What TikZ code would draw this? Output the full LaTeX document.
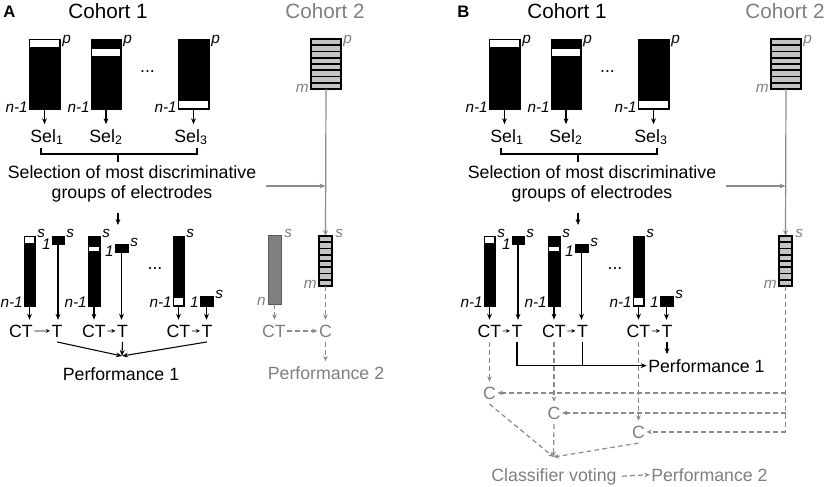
\documentclass[tikz,border=0pt]{standalone}
\usepackage{fontspec}
\setmainfont{Liberation Sans}
\usetikzlibrary{arrows.meta,calc}
\definecolor{gtxt}{HTML}{7F7F7F}
\definecolor{gline}{HTML}{8A8A8A}
\definecolor{gfill}{HTML}{C4C4C4}
\definecolor{nfill}{HTML}{808080}
\tikzset{
  txt/.style={inner xsep=1pt, inner ysep=3.5pt, font=\fontsize{13.3}{14.5}\selectfont},
  gtx/.style={txt, text=gtxt},
  lab/.style={inner sep=0pt, font=\fontsize{11.5}{13}\selectfont\itshape},
  glab/.style={lab, text=gtxt},
  head/.style={inner sep=0pt, font=\fontsize{15.5}{18}\selectfont},
  arr/.style={line width=0.8pt, -{Stealth[length=4.5pt,width=3.6pt]}},
  sarr/.style={line width=0.6pt, -{Stealth[length=3pt,width=2.8pt]}},
  garr/.style={draw=gline, line width=0.9pt, -{Stealth[length=4.5pt,width=3.6pt]}},
  dsh/.style={draw=gline, line width=0.9pt, dash pattern=on 3.5pt off 2.5pt},
  darr/.style={dsh, -{Stealth[length=4pt,width=3.4pt]}},
  blk/.style={fill=black, draw=black, line width=0.4pt},
}
\newcommand\bbar[4]{\path[blk] (#1,#2) rectangle (#3,#4);}
\newcommand\wband[4]{\path[fill=white] ({#1+1.2},{#2+1.2}) rectangle ({#3-1.2},{#4-1.2});}
\newcommand\sbar[5]{%
  \path[fill=gfill] (#1,#2) rectangle (#3,#4);
  \foreach \k in {1,...,7}{\draw[line width=#5] (#1,{#2+(#4-#2)*\k/8}) -- (#3,{#2+(#4-#2)*\k/8});}
  \draw[line width=1.4pt] (#1,#2) rectangle (#3,#4);}
\newcommand\panel[2]{%
  % top bars of cohort 1
  \bbar{29}{39}{60}{109}\wband{29}{39}{60}{48}
  \bbar{91}{39}{121}{109}\wband{91}{48}{121}{57}
  \bbar{178}{39}{209}{109}\wband{178}{100}{209}{109}
  \coordinate (#1b1) at (44.5,109);
  \coordinate (#1b2) at (106,109);
  \coordinate (#1b3) at (193.5,109);
  \node[lab,anchor=base west] (#1p1) at (62,43) {p};
  \node[lab,anchor=base west] (#1p2) at (123,43) {p};
  \node[lab,anchor=base west] (#1p3) at (211,43) {p};
  \node[lab,anchor=base east] (#1n1) at (28,112) {n-1};
  \node[lab,anchor=base east] (#1n2) at (90,112) {n-1};
  \node[lab,anchor=base east] (#1n3) at (177,112) {n-1};
  \node[txt] (#1dt) at (147.5,72) {...};
  \node[txt,anchor=base] (#1s1) at (47,142) {Sel\textsubscript{1}};
  \node[txt,anchor=base] (#1s2) at (106,142) {Sel\textsubscript{2}};
  \node[txt,anchor=base] (#1s3) at (191,142) {Sel\textsubscript{3}};
  \draw[arr] (#1b1) -- (#1b1 |- #1s1.north);
  \draw[arr] (#1b2) -- (#1b2 |- #1s2.north);
  \draw[arr] (#1b3) -- (#1b3 |- #1s3.north);
  \coordinate (#1brL) at (41,148);
  \coordinate (#1brR) at (197,148);
  \coordinate (#1brM) at (118,154);
  \draw[line width=0.8pt] (#1brL) -- (#1brL |- #1brM) -- (#1brR |- #1brM) -- (#1brR);
  \draw[line width=0.8pt] (#1brM) -- ++(0,8);
  \node[txt,align=center] (#1sel) at (132,184) {Selection of most discriminative\\groups of electrodes};
  \coordinate (#1dtop) at (118,213);
  \coordinate (#1dbot) at (118,225);
  \draw[arr] (#1dtop) -- (#1dbot);
  % bottom bars of cohort 1
  \bbar{24}{236}{35}{306}\wband{24}{236}{35}{244}
  \bbar{52}{236}{64}{244}
  \bbar{88}{236}{100}{306}\wband{88}{246}{100}{252}
  \bbar{115}{244}{128}{252}
  \bbar{173}{236}{184}{306}\wband{173}{297}{184}{306}
  \bbar{200}{296}{213}{306}
  \node[lab,anchor=base west] (#1ls1) at (37,237) {s};
  \node[lab,anchor=base west] (#1hs1) at (66,237) {s};
  \node[lab,anchor=base east] (#1ho1) at (51,249.5) {1};
  \node[lab,anchor=base east] (#1ln1) at (23,307) {n-1};
  \node[lab,anchor=base west] (#1ls2) at (102,237) {s};
  \node[lab,anchor=base west] (#1hs2) at (130,246) {s};
  \node[lab,anchor=base east] (#1ho2) at (114,256) {1};
  \node[lab,anchor=base east] (#1ln2) at (87,307) {n-1};
  \node[lab,anchor=base west] (#1ls3) at (186,237) {s};
  \node[lab,anchor=base west] (#1hs3) at (215,298) {s};
  \node[lab,anchor=base east] (#1ho3) at (199,307) {1};
  \node[lab,anchor=base east] (#1ln3) at (172,307) {n-1};
  \node[txt] (#1dt2) at (155,269) {...};
  \coordinate (#1l1) at (29.5,306);
  \coordinate (#1h1) at (58,244);
  \coordinate (#1l2) at (94,306);
  \coordinate (#1h2) at (121.5,252);
  \coordinate (#1l3) at (178.5,306);
  \coordinate (#1h3) at (206.5,306);
  \node[txt,anchor=base] (#1CT1) at (#2,337) {CT};
  \node[txt,anchor=base] (#1T1) at (57,337) {T};
  \node[txt,anchor=base] (#1CT2) at (94,337) {CT};
  \node[txt,anchor=base] (#1T2) at (122.5,337) {T};
  \node[txt,anchor=base] (#1CT3) at (178.5,337) {CT};
  \node[txt,anchor=base] (#1T3) at (207,337) {T};
  \draw[arr] (#1l1) -- (#1l1 |- #1CT1.north);
  \draw[arr] (#1h1) -- (#1h1 |- #1T1.north);
  \draw[arr] (#1l2) -- (#1l2 |- #1CT2.north);
  \draw[arr] (#1h2) -- (#1h2 |- #1T2.north);
  \draw[arr] (#1l3) -- (#1l3 |- #1CT3.north);
  \draw[arr] (#1h3) -- (#1h3 |- #1T3.north);
  \draw[sarr] (#1CT1.east) -- (#1T1.west);
  \draw[sarr] (#1CT2.east) -- (#1T2.west);
  \draw[sarr] (#1CT3.east) -- (#1T3.west);
  % cohort 2
  \sbar{311}{39}{341}{89}{1.4pt}
  \node[glab,anchor=base west] (#1cp) at (343,43) {p};
  \node[glab,anchor=base east] (#1cm) at (309,92) {m};
  \coordinate (#1c2t) at (326,89);
  \coordinate (#1c2u) at (325.5,236);
  \coordinate (#1c2j) at (325.5,186);
  \draw[garr] (#1c2t) -- (#1c2u);
  \draw[garr] ([xshift=6pt,yshift=-1.5pt]#1sel.east) -- (#1c2j);
  \sbar{319}{236}{332}{286}{1.2pt}
  \node[glab,anchor=base west] (#1cs) at (335,237) {s};
  \node[glab,anchor=base east] (#1cm2) at (317,288) {m};
  \coordinate (#1c2b) at (325.5,286);
}
\begin{document}
\begin{tikzpicture}[x=0.75pt,y=-0.75pt]
\useasboundingbox (0,0) rectangle (829,486);
% headers
\node[inner sep=0pt,anchor=base west,font=\fontsize{12.5}{14}\selectfont\bfseries] (labA) at (3,17) {A};
\node[inner sep=0pt,anchor=base west,font=\fontsize{12.5}{14}\selectfont\bfseries] (labB) at (457,17) {B};
\node[head,anchor=base] (hA1) at (108,18) {Cohort 1};
\node[head,anchor=base,text=gtxt] (hA2) at (325,18) {Cohort 2};
\node[head,anchor=base] (hB1) at (567,18) {Cohort 1};
\node[head,anchor=base,text=gtxt] (hB2) at (785,18) {Cohort 2};
% ---------------- Panel A
\panel{A}{21}
\path[fill=nfill,draw=gray!70!black,line width=0.6pt] (268,235) rectangle (281,304);
\node[glab,anchor=base west] (Ans) at (284,237) {s};
\node[glab,anchor=base east] (Ann) at (266,305) {n};
\coordinate (Anb) at (274.5,304);
\node[gtx,anchor=base] (ACTg) at (274,337) {CT};
\node[gtx,anchor=base] (ACg) at (325.5,337) {C};
\node[gtx,anchor=base] (APerf2) at (326,379) {Performance 2};
\draw[darr] (Anb) -- (Anb |- ACTg.north);
\draw[darr] (Ac2b) -- (Ac2b |- ACg.north);
\draw[darr] (ACTg.east) -- (ACg.west);
\draw[darr] (ACg.south) -- (ACg.south |- APerf2.north);
\node[txt,anchor=base] (APerf1) at (121,380) {Performance 1};
\coordinate (AP1) at (122,356);
\draw[arr] (AT1.south) -- (AP1);
\draw[arr] (AT2.south) -- (AP1);
\draw[arr] (AT3.south) -- (AP1);
% ---------------- Panel B
\begin{scope}[xshift=345pt]
\panel{B}{29.5}
\node[txt,anchor=base west] (BPerf1) at (186.7,372) {Performance 1};
\draw[arr] (BT3.south) -- (BT3.south |- BPerf1.north);
\draw[arr] (BT1.south) -- (BT1.south |- BPerf1.west) -- (BPerf1.west);
\draw[line width=0.8pt] (BT2.south) -- (BT2.south |- BPerf1.west);
\node[gtx,anchor=base] (BC1) at (29.5,399) {C};
\node[gtx,anchor=base] (BC2) at (94,419) {C};
\node[gtx,anchor=base] (BC3) at (178.5,438) {C};
\draw[darr] (BCT1.south) -- (BC1.north);
\draw[darr] (BCT2.south) -- (BC2.north);
\draw[darr] (BCT3.south) -- (BC3.north);
\draw[dsh] (Bc2b) -- (Bc2b |- BC3);
\draw[darr] (Bc2b |- BC1) -- (BC1.east);
\draw[darr] (Bc2b |- BC2) -- (BC2.east);
\draw[darr] (Bc2b |- BC3) -- (BC3.east);
\coordinate (BV) at (93.5,457);
\draw[darr] (BC1.south) -- (BV);
\draw[darr] (BC2.south) -- (BV);
\draw[darr] (BC3.south) -- (BV);
\node[gtx,anchor=base] (BCV) at (94,481) {Classifier voting};
\node[gtx,anchor=base west] (BPerf2) at (189.7,481) {Performance 2};
\draw[darr,shorten <=3pt] (BCV.east) -- (BPerf2.west);
\end{scope}
\end{tikzpicture}
\end{document}
